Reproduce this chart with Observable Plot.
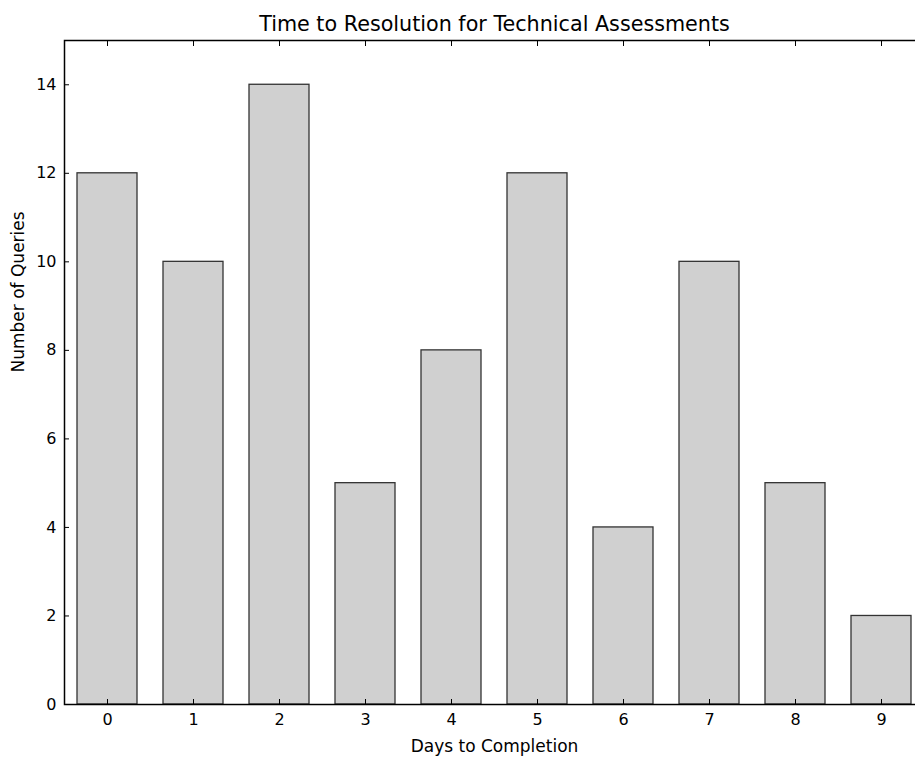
<!DOCTYPE html>
<html>
<head>
<meta charset="utf-8">
<script src="https://cdn.jsdelivr.net/npm/d3@7"></script>
<script src="https://cdn.jsdelivr.net/npm/@observablehq/plot@0.6"></script>
<style>
  html, body { margin: 0; padding: 0; background: #fff; overflow: hidden; width: 915px; height: 757px; }
  #chart { width: 915px; height: 757px; overflow: hidden; }
  #chart svg { display: block; max-width: none !important; width: 930px !important; height: 757px !important; }
</style>
</head>
<body>
<div id="chart"></div>
<script>
const days = [0, 1, 2, 3, 4, 5, 6, 7, 8, 9];
const counts = [12, 10, 14, 5, 8, 12, 4, 10, 5, 2];
const yTicks = [0, 2, 4, 6, 8, 10, 12, 14];
const titleText = "Time to Resolution for Technical Assessments";
const xLabel = "Days to Completion";
const yLabel = "Number of Queries";

const data = days.map((d, i) => ({day: d, count: counts[i]}));
const FONT = "DejaVu Sans";

const chart = Plot.plot({
  width: 930,
  height: 757,
  marginLeft: 64,
  marginRight: 6,
  marginTop: 40,
  marginBottom: 53,
  style: {fontFamily: FONT, fontSize: "16px", color: "#000", background: "#fff", overflow: "visible"},
  x: {type: "band", domain: days, paddingInner: 0.3, paddingOuter: 0.15},
  y: {domain: [0, 15]},
  marks: [
    Plot.barY(data, {x: "day", y: "count", fill: "#d0d0d0", stroke: "#333", strokeWidth: 1.3}),
    Plot.frame({stroke: "#000", strokeWidth: 1.5}),
    Plot.axisX({anchor: "bottom", label: null, tickSize: 0, tickPadding: 9, fontSize: 16, tickFormat: d => String(d)}),
    Plot.axisX({anchor: "bottom", label: null, tickSize: -5, tickFormat: () => ""}),
    Plot.axisX({anchor: "top", label: null, tickSize: -5, tickFormat: () => ""}),
    Plot.axisY({anchor: "left", label: null, ticks: yTicks, tickSize: 0, tickPadding: 8, fontSize: 16}),
    Plot.axisY({anchor: "left", label: null, ticks: yTicks, tickSize: -5, tickFormat: () => ""}),
    Plot.axisY({anchor: "right", label: null, ticks: yTicks, tickSize: -5, tickFormat: () => ""}),
    Plot.text([titleText], {frameAnchor: "top", lineAnchor: "bottom", dy: -10, fontSize: 20.7, fill: "#000"}),
    Plot.text([xLabel], {frameAnchor: "bottom", lineAnchor: "middle", dy: 42, fontSize: 17, fill: "#000"}),
    Plot.text([yLabel], {frameAnchor: "left", lineAnchor: "middle", rotate: -90, dx: -46, fontSize: 17, fill: "#000"})
  ]
});
document.getElementById("chart").appendChild(chart);
</script>
</body>
</html>
